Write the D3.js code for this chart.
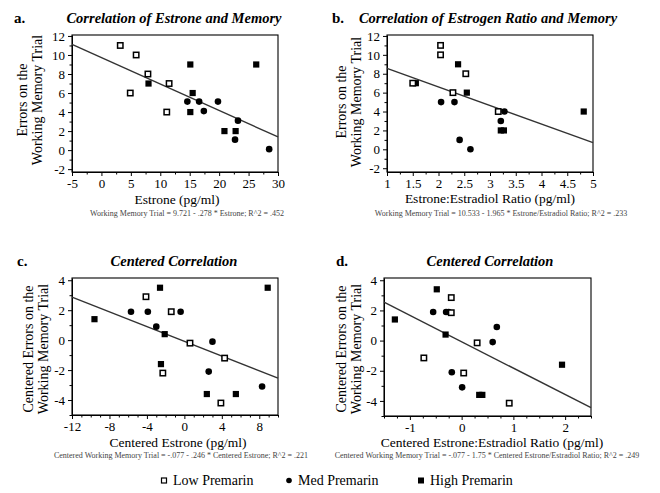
<!DOCTYPE html>
<html><head><meta charset="utf-8">
<script src="https://cdn.jsdelivr.net/npm/d3@7"></script>
<style>
body{margin:0;background:#fff}
text{font-family:"Liberation Serif","Times New Roman",serif;fill:#000}
</style>
</head><body>
<svg id="chart" width="660" height="493"></svg>
<script>
// ---------- data ----------
// Panel a: Estrone vs Errors
const aLow  = [[3.2,11],[5.9,10],[7.9,8],[4.9,6],[11.5,7],[11.1,4]];
const aMed  = [[14.6,5.1],[16.6,5.1],[17.4,4.1],[19.8,5.1],[23.2,3.1],[22.7,1.1],[28.5,0.1]];
const aHigh = [[15.1,9],[26.3,9],[8.0,7],[15.5,6],[15.1,4],[20.9,2],[22.8,2]];
const aCoef = [9.721,-0.278];
// Panel b: Estrone:Estradiol ratio vs Errors
const bLow  = [[2.04,11],[2.04,10],[2.53,8],[1.50,7],[2.28,6],[3.16,4]];
const bMed  = [[2.05,5],[2.31,5],[3.28,4],[3.21,3],[2.41,1],[2.62,0]];
const bHigh = [[2.38,9],[1.56,7],[2.55,6],[3.21,2],[3.27,2],[4.82,4]];
const bCoef = [10.533,-1.965];
// Panel c: Centered estrone vs centered errors
const cLow  = [[-4.1,2.9],[-1.4,1.9],[0.6,-0.2],[4.3,-1.2],[-2.3,-2.2],[3.9,-4.2]];
const cMed  = [[-5.7,1.9],[-3.9,1.9],[-0.4,1.9],[-3.0,0.9],[3.0,-0.1],[2.6,-2.1],[8.3,-3.1]];
const cHigh = [[-2.6,3.5],[8.9,3.5],[-9.6,1.4],[-2.1,0.4],[-2.5,-1.6],[2.4,-3.6],[5.5,-3.6]];
const cCoef = [-0.077,-0.246];
// Panel d: Centered ratio vs centered errors
const dLow  = [[-0.2,2.85],[-0.2,1.85],[0.3,-0.15],[-0.73,-1.15],[0.04,-2.15],[0.92,-4.15]];
const dMed  = [[-0.55,1.9],[-0.30,1.9],[-0.25,1.9],[0.68,0.9],[0.60,-0.1],[-0.19,-2.1],[0.01,-3.1]];
const dHigh = [[-0.48,3.4],[-1.29,1.4],[-0.31,0.4],[0.34,-3.6],[0.40,-3.6],[1.94,-1.6]];
const dCoef = [-0.077,-1.75];

const aXTicks = [-5,0,5,10,15,20,25,30];
const bXTicks = [1,1.5,2,2.5,3,3.5,4,4.5,5];
const cXTicks = [-12,-8,-4,0,4,8];
const dXTicks = [-1,0,1,2];
const abYTicks = [-2,0,2,4,6,8,10,12];
const cdYTicks = [-4,-2,0,2,4];

const titles = ["Correlation of Estrone and Memory","Correlation of Estrogen Ratio and Memory","Centered Correlation","Centered Correlation"];
const letters = ["a.","b.","c.","d."];
const xLabels = ["Estrone (pg/ml)","Estrone:Estradiol Ratio (pg/ml)","Centered Estrone (pg/ml)","Centered Estrone:Estradiol Ratio (pg/ml)"];
const yLabels = [["Errors on the","Working  Memory Trial"],["Errors on the","Working  Memory Trial"],["Centered Errors on the","Working  Memory Trial"],["Centered Errors on the","Working  Memory Trial"]];
const equations = [
 "Working Memory Trial = 9.721 - .278 * Estrone; R^2 = .452",
 "Working Memory Trial = 10.533 - 1.965 * Estrone/Estradiol Ratio; R^2 = .233",
 "Centered Working Memory Trial = -.077 - .246 * Centered Estrone; R^2 = .221",
 "Centered Working Memory Trial = -.077 - 1.75 * Centered Estrone/Estradiol Ratio; R^2 = .249"
];
const legendLabels = ["Low Premarin","Med Premarin","High Premarin"];

// ---------- layout ----------
const panels = [
 {low:aLow,med:aMed,high:aHigh,coef:aCoef,xd:[-5,30],yd:[-2.3,12.1],xt:aXTicks,xm:2.5,yt:abYTicks,ym:1,
  box:{l:72,r:278,t:35,b:172},letter:[14,23],title:[174,23],xl:[177,204],eq:[187,216],yl:[22,37,100]},
 {low:bLow,med:bMed,high:bHigh,coef:bCoef,xd:[1,5],yd:[-2.4,12.1],xt:bXTicks,xm:0.25,yt:abYTicks,ym:1,
  box:{l:387,r:593,t:35,b:172},letter:[332,23],title:[488,23],xl:[490,203],eq:[501,216],yl:[341,356,102]},
 {low:cLow,med:cMed,high:cHigh,coef:cCoef,xd:[-12,10],yd:[-5,4.15],xt:cXTicks,xm:1,yt:cdYTicks,ym:1,
  box:{l:72,r:278,t:278,b:415},letter:[17,266],title:[174,266],xl:[178,447],eq:[181,458],yl:[28,43,349]},
 {low:dLow,med:dMed,high:dHigh,coef:dCoef,xd:[-1.5,2.5],yd:[-5,4.15],xt:dXTicks,xm:0.25,yt:cdYTicks,ym:1,
  box:{l:384,r:591,t:278,b:416},letter:[336,266],title:[490,266],xl:[492,447],eq:[487,458],yl:[341,356,349]}
];

const svg = d3.select("#chart");
svg.append("rect").attr("width",660).attr("height",493).attr("fill","#fff");

function closeTo(v,arr){return arr.some(t=>Math.abs(t-v)<1e-9);}

panels.forEach((p,i)=>{
  const g = svg.append("g");
  const x = d3.scaleLinear().domain(p.xd).range([p.box.l,p.box.r]);
  const y = d3.scaleLinear().domain(p.yd).range([p.box.b,p.box.t]);

  // minor ticks
  const xMinor = d3.range(Math.ceil(p.xd[0]/p.xm)*p.xm, p.xd[1]+1e-9, p.xm).filter(v=>!closeTo(v,p.xt));
  const yMinor = d3.range(Math.ceil(p.yd[0]/p.ym)*p.ym, p.yd[1]+1e-9, p.ym).filter(v=>!closeTo(v,p.yt));
  g.append("g").attr("transform",`translate(0,${p.box.b})`)
   .call(d3.axisBottom(x).tickValues(xMinor).tickSize(2.5).tickFormat(""))
   .call(s=>s.select(".domain").remove());
  g.append("g").attr("transform",`translate(${p.box.l},0)`)
   .call(d3.axisLeft(y).tickValues(yMinor).tickSize(2.5).tickFormat(""))
   .call(s=>s.select(".domain").remove());

  // major axes
  const xa = g.append("g").attr("transform",`translate(0,${p.box.b})`)
   .call(d3.axisBottom(x).tickValues(p.xt).tickSize(4).tickSizeOuter(0).tickPadding(3).tickFormat(d=>String(d)));
  const ya = g.append("g").attr("transform",`translate(${p.box.l},0)`)
   .call(d3.axisLeft(y).tickValues(p.yt).tickSize(4).tickSizeOuter(0).tickPadding(3).tickFormat(d=>String(d)));
  [xa,ya].forEach(a=>{
    a.selectAll("text").style("font-family","'Liberation Serif','Times New Roman',serif").style("font-size","13px").attr("fill","#000");
    a.selectAll("line").attr("stroke","#000");
  });
  g.selectAll(".tick line").attr("stroke","#000");

  // frame
  g.append("rect").attr("x",p.box.l).attr("y",p.box.t)
   .attr("width",p.box.r-p.box.l).attr("height",p.box.b-p.box.t)
   .attr("fill","none").attr("stroke","#000").attr("stroke-width",1.1);

  // regression line
  const f = v => p.coef[0]+p.coef[1]*v;
  g.append("line")
   .attr("x1",x(p.xd[0])).attr("y1",y(f(p.xd[0])))
   .attr("x2",x(p.xd[1])).attr("y2",y(f(p.xd[1])))
   .attr("stroke","#333").attr("stroke-width",1.4);

  // points
  g.selectAll(".hi").data(p.high).enter().append("rect")
   .attr("x",d=>x(d[0])-3.1).attr("y",d=>y(d[1])-3.1).attr("width",6.2).attr("height",6.2).attr("fill","#000");
  g.selectAll(".md").data(p.med).enter().append("circle")
   .attr("cx",d=>x(d[0])).attr("cy",d=>y(d[1])).attr("r",3.3).attr("fill","#000");
  g.selectAll(".lo").data(p.low).enter().append("rect")
   .attr("x",d=>x(d[0])-2.7).attr("y",d=>y(d[1])-2.7).attr("width",5.4).attr("height",5.4)
   .attr("fill","#fff").attr("stroke","#000").attr("stroke-width",1.5);

  // texts
  g.append("text").attr("x",p.letter[0]).attr("y",p.letter[1]).text(letters[i])
   .style("font-size","15px").style("font-weight","bold");
  g.append("text").attr("x",p.title[0]).attr("y",p.title[1]).attr("text-anchor","middle").text(titles[i])
   .style("font-size","14.5px").style("font-weight","bold").style("font-style","italic");
  g.append("text").attr("x",p.xl[0]).attr("y",p.xl[1]).attr("text-anchor","middle").text(xLabels[i])
   .style("font-size","13.5px");
  g.append("text").attr("x",p.eq[0]).attr("y",p.eq[1]).attr("text-anchor","middle").text(equations[i])
   .style("font-size","8px").attr("fill","#444").style("fill","#444");
  yLabels[i].forEach((t,k)=>{
    g.append("text").attr("transform",`translate(${p.yl[k]+5},${p.yl[2]}) rotate(-90)`)
     .attr("text-anchor","middle").text(t).style("font-size","14px");
  });
});

// legend
const leg = svg.append("g");
const ly = 480;
leg.append("rect").attr("x",161.5).attr("y",ly-2).attr("width",5).attr("height",5)
   .attr("fill","#fff").attr("stroke","#000").attr("stroke-width",1.2);
leg.append("circle").attr("cx",289).attr("cy",ly+0.5).attr("r",2.8).attr("fill","#000");
leg.append("rect").attr("x",418).attr("y",ly-2.5).attr("width",6).attr("height",6).attr("fill","#000");
[[173,0],[298,1],[430,2]].forEach(([lx,k])=>{
  leg.append("text").attr("x",lx).attr("y",ly+5).text(legendLabels[k]).style("font-size","14px");
});
</script>
</body></html>
